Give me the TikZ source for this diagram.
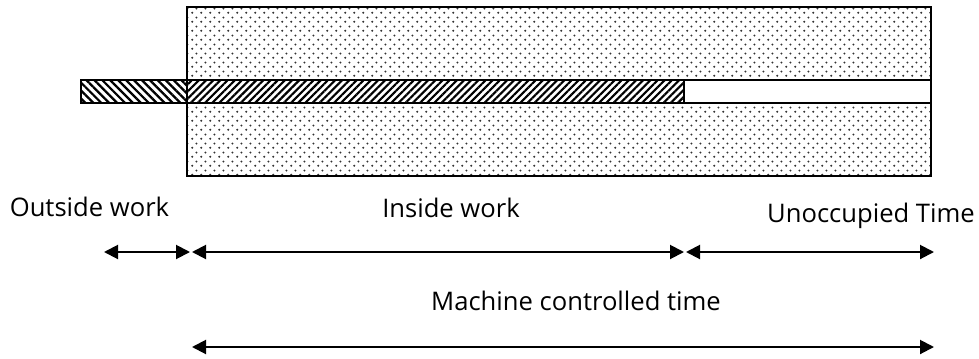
\documentclass[tikz,border=0pt]{standalone}
\usepackage{fontspec}
\setmainfont{Open Sans}
\usetikzlibrary{patterns.meta,arrows.meta}

% staggered dot fill for the machine body
\tikzdeclarepattern{
  name=bodydots,
  type=colored,
  bounding box={(-1pt,-1pt) and (5.9pt,5.9pt)},
  tile size={(6.9pt,6.9pt)},
  code={
    \fill[black!80] (0pt,0pt) circle (0.85pt);
    \fill[black!80] (3.45pt,3.45pt) circle (0.85pt);
  }
}

\tikzset{
  block/.style={rectangle, inner sep=0pt, outer sep=0pt},
  body/.style={block, draw=black, line width=2.2pt, pattern=bodydots,
    minimum width=558pt, minimum height=126.75pt},
  barpart/.style={block, draw=black, line width=1.6pt, minimum height=17.25pt},
  outhatch/.style={pattern={Lines[angle=-45,distance=4.2pt,line width=1.7pt]}},
  inhatch/.style={pattern={Lines[angle=45,distance=3.8pt,line width=1.6pt]}},
  span/.style={line width=1.5pt, {Triangle[length=10.5pt,width=10.5pt]}-{Triangle[length=10.5pt,width=10.5pt]}},
  label/.style={font=\fontsize{19.2}{23}\selectfont, anchor=base, inner sep=0pt},
}

\begin{document}
\begin{tikzpicture}[x=0.75pt,y=-0.75pt]
  \useasboundingbox (0,0) rectangle (979,358);

  % machine body and the work bar passing through it
  \node[body] (machinebody) at (559,91.5) {};
  \node[barpart, fill=white, minimum width=185.25pt] (free) at (807.5,91.5) {};
  \node[barpart, fill=white, minimum width=79.5pt] (outbar) at (134,91.5) {};
  \node[barpart, outhatch, minimum width=79.5pt] at (134,91.5) {};
  \node[barpart, fill=white, minimum width=372.75pt] (inbar) at (435.5,91.5) {};
  \node[barpart, inhatch, minimum width=372.75pt] at (435.5,91.5) {};
  \draw[line width=2.2pt] (machinebody.north west) rectangle (machinebody.south east);

  % labels
  \node[label] (outside) at (89.5,216) {Outside work};
  \node[label] (inside) at (451,217) {Inside work};
  \node[label] (unocc) at (871,222) {Unoccupied Time};
  \node[label] (machine) at (576,310) {Machine controlled time};

  % span end points
  \coordinate (a0) at (104,252);
  \coordinate (a1) at (190,252);
  \coordinate (b0) at (192,252);
  \coordinate (b1) at (684,252);
  \coordinate (c0) at (686,252);
  \coordinate (c1) at (934,252);
  \coordinate (d0) at (192,347);
  \coordinate (d1) at (934,347);

  \draw[span] (a0) -- (a1);
  \draw[span] (b0) -- (b1);
  \draw[span] (c0) -- (c1);
  \draw[span] (d0) -- (d1);
\end{tikzpicture}
\end{document}
